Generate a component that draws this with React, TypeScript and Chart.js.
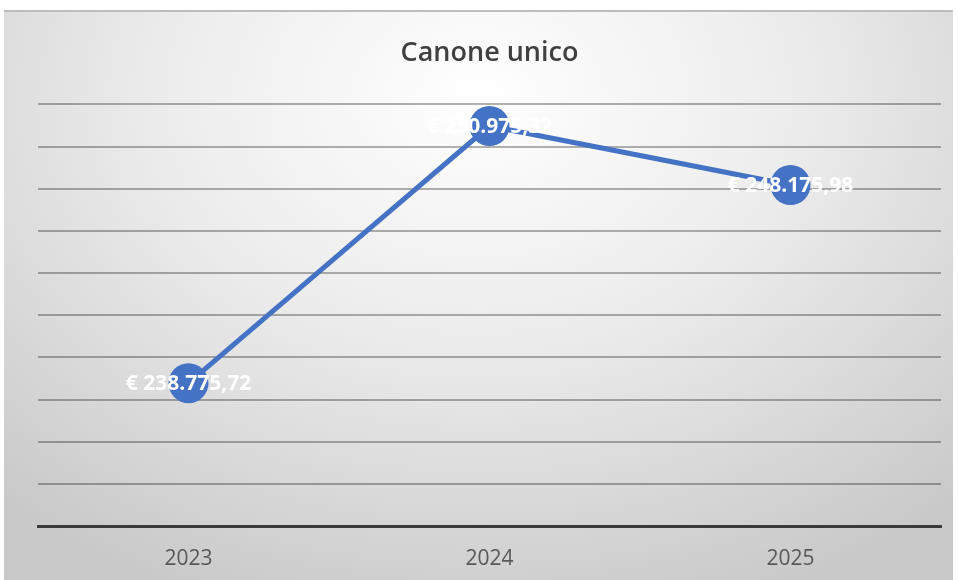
import React, { useEffect, useRef } from "react";
import { Chart, registerables } from "chart.js";

Chart.register(...registerables);

const categories: string[] = ["2023", "2024", "2025"];
const values: number[] = [238775.72, 250975.32, 248175.98];
const valueLabels: string[] = ["€ 238.775,72", "€ 250.975,32", "€ 248.175,98"];
const yMin = 232000;
const yMax = 252000;
const yStep = 2000;
const titleText = "Canone unico";

const dataLabelPlugin = {
  id: "dataLabels",
  afterDatasetsDraw(chart: any) {
    const ctx = chart.ctx;
    const meta = chart.getDatasetMeta(0);
    ctx.save();
    ctx.font = "bold 21px 'Open Sans'";
    ctx.fillStyle = "#ffffff";
    ctx.textAlign = "center";
    ctx.textBaseline = "middle";
    meta.data.forEach((pt: any, i: number) => {
      ctx.fillText(valueLabels[i], pt.x, pt.y + 1);
    });
    ctx.restore();
  },
};

export default function App() {
  const ref = useRef<HTMLCanvasElement>(null);
  useEffect(() => {
    if (!ref.current) return;
    const chart = new Chart(ref.current, {
      type: "line",
      data: {
        labels: categories,
        datasets: [
          {
            data: values,
            borderColor: "#4472C4",
            backgroundColor: "#4472C4",
            borderWidth: 5,
            pointRadius: 20,
            pointHoverRadius: 20,
            pointBorderWidth: 0,
            pointBackgroundColor: "#4472C4",
            tension: 0,
          },
        ],
      },
      options: {
        animation: false,
        responsive: false,
        maintainAspectRatio: false,
        events: [],
        layout: { autoPadding: false, padding: { left: 34, right: 12, top: 0, bottom: 0 } },
        plugins: {
          legend: { display: false },
          tooltip: { enabled: false },
          title: {
            display: true,
            text: titleText,
            color: "#404040",
            font: { family: "'Open Sans'", size: 27, weight: 600 },
            padding: { top: 25, bottom: 35 },
          },
        },
        scales: {
          x: {
            offset: true,
            grid: { display: false, drawTicks: false },
            border: { display: true, color: "#3a3a3a", width: 3 },
            ticks: {
              color: "#595959",
              font: { family: "'Open Sans'", size: 21 },
              padding: 20,
            },
            afterFit: (axis: any) => {
              axis.height = 54;
            },
          },
          y: {
            min: yMin,
            max: yMax,
            ticks: { display: false, stepSize: yStep },
            grid: { color: "rgba(0,0,0,0.3)", lineWidth: 2, drawTicks: false },
            border: { display: false },
          },
        },
      },
      plugins: [dataLabelPlugin],
    });
    return () => chart.destroy();
  }, []);

  return (
    <div style={{ position: "fixed", left: 0, top: 0, width: 958, height: 580, background: "#ffffff", overflow: "hidden" }}>
      <div
        style={{
          position: "absolute",
          left: 4,
          top: 10,
          width: 949,
          height: 570,
          boxSizing: "border-box",
          borderTop: "2px solid #bdbdbd",
          background: "radial-gradient(ellipse 75% 95% at 50% 15%, #ffffff 0%, #ececec 45%, #d9d9d9 75%, #c9c9c9 100%)",
        }}
      >
        <canvas ref={ref} width={949} height={568} style={{ display: "block" }} />
      </div>
    </div>
  );
}
